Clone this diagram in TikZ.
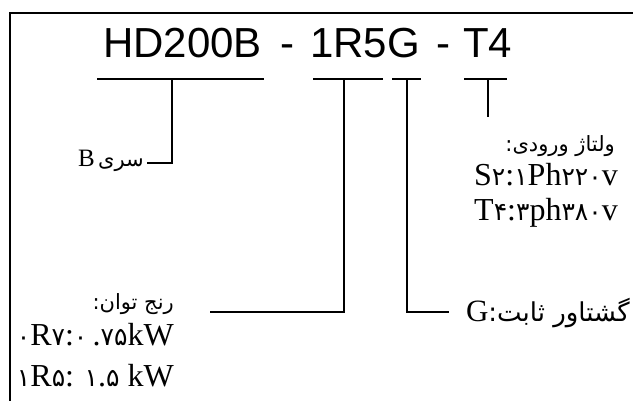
\documentclass[tikz,border=0pt]{standalone}
\usepackage{fontspec}
\setmainfont{Liberation Serif}
\newfontfamily\titlefont{Liberation Sans}
\newfontfamily\fa[Script=Arabic]{DejaVu Sans}
\newcommand\fd[1]{{\fa\fontsize{25}{28}\selectfont #1}}
\TeXXeTstate=1
\begin{document}
\begin{tikzpicture}[x=1pt,y=-1pt,
  frame/.style={line width=2pt},
  bar/.style={line width=1.8pt},
  conn/.style={line width=1.8pt},
  ttl/.style={inner sep=0pt,font=\titlefont\fontsize{42}{42}\selectfont},
  lbl/.style={inner sep=0pt,font=\fontsize{32}{34}\selectfont},
  falbl/.style={inner sep=0pt,font=\fa\fontsize{20}{24}\selectfont}]
\useasboundingbox (0,0) rectangle (633,401);
\fill[white] (0,0) rectangle (633,401);
% frame
\draw[frame] (10,401) -- (10,13) -- (633,13);
% title
\node[ttl,anchor=base west] (t1) at (103,58) {HD200B};
\node[ttl,anchor=base] (d1) at (287,58) {-};
\node[ttl,anchor=base west] (t2) at (310,58) {1R5G};
\node[ttl,anchor=base] (d2) at (443,58) {-};
\node[ttl,anchor=base west] (t3) at (463,58) {T4};
% bars
\coordinate (b1l) at (97,79);  \coordinate (b1r) at (264,79);  \coordinate (b1m) at (172,79);
\coordinate (b2l) at (313,79); \coordinate (b2r) at (383,79);  \coordinate (b2m) at (344,79);
\coordinate (b3l) at (392,79); \coordinate (b3r) at (421,79);  \coordinate (b3m) at (407,79);
\coordinate (b4l) at (464,79); \coordinate (b4r) at (507,79);  \coordinate (b4m) at (488,79);
\draw[bar] (b1l) -- (b1r);
\draw[bar] (b2l) -- (b2r);
\draw[bar] (b3l) -- (b3r);
\draw[bar] (b4l) -- (b4r);
% connector ends
\coordinate (e1) at (147,163);
\coordinate (e2) at (210,312);
\coordinate (e3) at (449,312);
\coordinate (e4) at (488,117);
\draw[conn] (b1m) |- (e1);
\draw[conn] (b2m) |- (e2);
\draw[conn] (b3m) |- (e3);
\draw[conn] (b4m) -- (e4);
% labels
\node[falbl,anchor=base east,font=\fa\fontsize{21}{24}\selectfont] (series) at (144,167) {\beginR سری\,\beginL{\rmfamily\fontsize{25}{28}\selectfont B}\endL\endR};
\node[falbl,anchor=base east,font=\fa\fontsize{21}{24}\selectfont] (vin) at (615,152) {\beginR ولتاژ ورودی:\endR};
\node[lbl,anchor=base east] (s2) at (618,186) {S\fd{۲}:\fd{۱}Ph\fd{۲۲۰}v};
\node[lbl,anchor=base east] (t4) at (618,221) {T\fd{۴}:\fd{۳}ph\fd{۳۸۰}v};
\node[falbl,anchor=base east,font=\fa\fontsize{21}{24}\selectfont] (pwr) at (174,309) {\beginR رنج توان:\endR};
\node[lbl,anchor=base east] (p1) at (174,345) {\fd{۰}R\fd{۷}:\fd{۰}\,.\fd{۷۵}kW};
\node[lbl,anchor=base east] (p2) at (174,387) {\fd{۱}R\fd{۵}: \fd{۱}.\fd{۵} kW};
\node[falbl,anchor=base east,font=\fa\fontsize{26}{30}\selectfont] (gl) at (630,322) {\beginR گشتاور ثابت:\beginL{\rmfamily\fontsize{31}{34}\selectfont G}\endL\endR};
\end{tikzpicture}
\end{document}
